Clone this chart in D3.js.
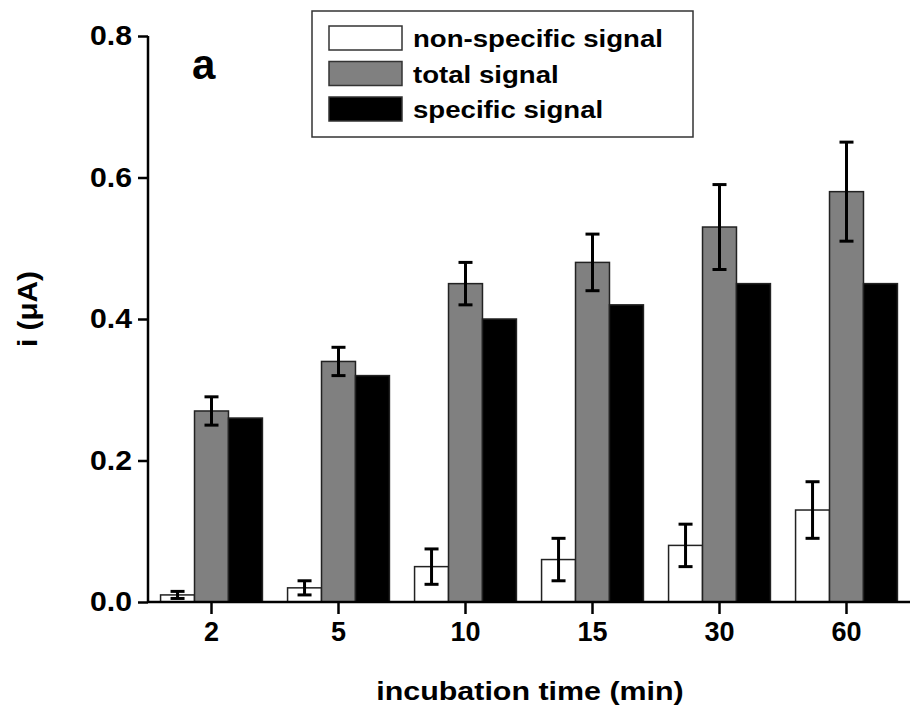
<!DOCTYPE html>
<html>
<head>
<meta charset="utf-8">
<script src="https://cdn.jsdelivr.net/npm/d3@7"></script>
<style>
  body { margin: 0; background: #fff; }
  text { font-family: "Liberation Sans", Arial, sans-serif; font-weight: bold; fill: #000; }
</style>
</head>
<body>
<div id="chart"></div>
<script>
// data
var times = ["2", "5", "10", "15", "30", "60"];
var series = ["non-specific signal", "total signal", "specific signal"];
var nonSpecific = [0.01, 0.02, 0.05, 0.06, 0.08, 0.13];
var nonSpecificErr = [0.005, 0.01, 0.025, 0.03, 0.03, 0.04];
var total = [0.27, 0.34, 0.45, 0.48, 0.53, 0.58];
var totalErr = [0.02, 0.02, 0.03, 0.04, 0.06, 0.07];
var specific = [0.26, 0.32, 0.40, 0.42, 0.45, 0.45];
var yTicks = [0.0, 0.2, 0.4, 0.6, 0.8];
var colors = ["#ffffff", "#808080", "#000000"];

var W = 911, H = 709;
var plotLeft = 148, plotRight = 910, plotTop = 36, plotBottom = 602;

var svg = d3.select("#chart").append("svg")
    .attr("width", W)
    .attr("height", H);

var x0 = d3.scaleBand().domain(times).range([plotLeft, plotRight]).paddingInner(0).paddingOuter(0);
var x1 = d3.scaleBand().domain(series).range([0, x0.bandwidth()]).paddingInner(0).paddingOuter(0.37);
var y = d3.scaleLinear().domain([0, 0.8]).range([plotBottom, plotTop]);

var rows = times.map(function (t, i) {
    return [
        { t: t, s: series[0], v: nonSpecific[i], e: nonSpecificErr[i] },
        { t: t, s: series[1], v: total[i], e: totalErr[i] },
        { t: t, s: series[2], v: specific[i], e: null }
    ];
});

// bars
var groups = svg.append("g").selectAll("g")
    .data(rows)
    .enter().append("g")
    .attr("transform", function (d) { return "translate(" + x0(d[0].t) + ",0)"; });

groups.selectAll("rect")
    .data(function (d) { return d; })
    .enter().append("rect")
    .attr("x", function (d) { return x1(d.s); })
    .attr("y", function (d) { return y(d.v); })
    .attr("width", x1.bandwidth())
    .attr("height", function (d) { return y(0) - y(d.v); })
    .attr("fill", function (d, i) { return colors[i]; })
    .attr("stroke", "#222")
    .attr("stroke-width", 1.5);

// error bars
var errs = groups.selectAll("g.err")
    .data(function (d) { return d.filter(function (r) { return r.e != null; }); })
    .enter().append("g")
    .attr("class", "err")
    .attr("stroke", "#000")
    .attr("stroke-width", 3);

errs.append("line")
    .attr("x1", function (d) { return x1(d.s) + x1.bandwidth() / 2; })
    .attr("x2", function (d) { return x1(d.s) + x1.bandwidth() / 2; })
    .attr("y1", function (d) { return y(d.v + d.e); })
    .attr("y2", function (d) { return y(d.v - d.e); });
[1, -1].forEach(function (k) {
    errs.append("line")
        .attr("x1", function (d) { return x1(d.s) + x1.bandwidth() / 2 - 7; })
        .attr("x2", function (d) { return x1(d.s) + x1.bandwidth() / 2 + 7; })
        .attr("y1", function (d) { return y(d.v + k * d.e); })
        .attr("y2", function (d) { return y(d.v + k * d.e); });
});

// axes
var yAxis = svg.append("g")
    .attr("transform", "translate(" + plotLeft + ",0)")
    .call(d3.axisLeft(y).tickValues(yTicks).tickFormat(d3.format(".1f")).tickSize(10).tickPadding(7));
var xAxis = svg.append("g")
    .attr("transform", "translate(0," + plotBottom + ")")
    .call(d3.axisBottom(x0).tickSize(12).tickPadding(8));

[yAxis, xAxis].forEach(function (a) {
    a.select(".domain").attr("stroke", "#000").attr("stroke-width", 2.5);
    a.selectAll(".tick line").attr("stroke", "#000").attr("stroke-width", 2.5);
    a.selectAll(".tick text")
        .style("font-family", "'Liberation Sans', Arial, sans-serif")
        .style("font-weight", "bold")
        .style("font-size", "27px");
});
// y labels are a little wider in the original
yAxis.selectAll(".tick text")
    .attr("x", -16 / 1.12)
    .attr("transform", "scale(1.12,1)");
yAxis.select(".domain").attr("d", "M0," + plotBottom + "V" + plotTop);
xAxis.select(".domain").attr("d", "M" + plotLeft + ",0H" + plotRight);

// axis titles
svg.append("text")
    .attr("x", 530)
    .attr("y", 700)
    .attr("text-anchor", "middle")
    .style("font-size", "26px")
    .attr("transform", "translate(530,0) scale(1.17,1) translate(-530,0)")
    .text("incubation time (min)");

svg.append("text")
    .attr("transform", "translate(37,309) rotate(-90) scale(1.1,1)")
    .attr("text-anchor", "middle")
    .style("font-size", "27px")
    .text("i (\u03bcA)");

// panel letter
svg.append("text")
    .attr("x", 192)
    .attr("y", 79)
    .style("font-size", "42px")
    .text("a");

// legend
var legend = svg.append("g");
legend.append("rect")
    .attr("x", 312).attr("y", 11)
    .attr("width", 381).attr("height", 126)
    .attr("fill", "#fff")
    .attr("stroke", "#333")
    .attr("stroke-width", 1.5);

var items = legend.selectAll("g.item")
    .data(series)
    .enter().append("g")
    .attr("class", "item")
    .attr("transform", function (d, i) { return "translate(329," + (26 + i * 35.5) + ")"; });
items.append("rect")
    .attr("width", 73).attr("height", 24)
    .attr("fill", function (d, i) { return colors[i]; })
    .attr("stroke", "#333")
    .attr("stroke-width", 1.5);
items.append("text")
    .attr("x", 84)
    .attr("y", 21)
    .style("font-size", "24px")
    .attr("transform", "translate(84,0) scale(1.15,1) translate(-84,0)")
    .text(function (d) { return d; });
</script>
</body>
</html>
